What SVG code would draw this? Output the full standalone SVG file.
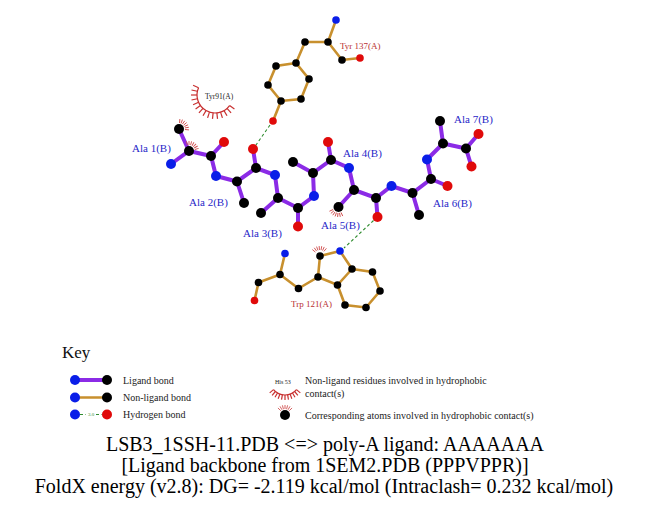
<svg xmlns="http://www.w3.org/2000/svg" xmlns:xlink="http://www.w3.org/1999/xlink" width="651" height="511" viewBox="0 0 651 511">
<style>
.lb{stroke:#8B2BE6;stroke-width:4;stroke-linecap:round;fill:none}
.nb{stroke:#C8902E;stroke-width:2.6;stroke-linecap:round;fill:none}
.hb{stroke:#2E8B2E;stroke-width:1.1;stroke-dasharray:3,2.5;fill:none}
.C{fill:#000}
.N{fill:#0A1EE8}
.O{fill:#E00A0A}
.hy{stroke:#C83030;stroke-width:1.2;fill:none}
.hs{stroke:#D05050;stroke-width:0.9;fill:none}
.ll{font-family:"Liberation Serif","Times New Roman",serif;font-size:11px;fill:#2828C8}
.nl{font-family:"Liberation Serif","Times New Roman",serif;font-size:9px;fill:#B83030}
.sm{font-family:"Liberation Serif","Times New Roman",serif;font-size:7.5px;fill:#222}
.kt{font-family:"Liberation Serif","Times New Roman",serif;font-size:10px;fill:#222}
.tt{font-family:"Liberation Serif","Times New Roman",serif;font-size:20px;fill:#000;text-anchor:middle}
</style>
<defs>
<g id="hspk" class="hs">
<line x1="-4.24" y1="-4.24" x2="-7.07" y2="-7.07"/>
<line x1="-3" y1="-5.2" x2="-5" y2="-8.66"/>
<line x1="-1.55" y1="-5.8" x2="-2.59" y2="-9.66"/>
<line x1="0" y1="-6" x2="0" y2="-10"/>
<line x1="1.55" y1="-5.8" x2="2.59" y2="-9.66"/>
<line x1="3" y1="-5.2" x2="5" y2="-8.66"/>
<line x1="4.24" y1="-4.24" x2="7.07" y2="-7.07"/>
</g>
</defs>
<rect width="651" height="511" fill="#fff"/>

<g id="connectors">
<g class="lb">
<polyline points="171,164 189,151 211,156 216,176 237,181.5 256,168 275,175 278,198 298,208 314,196 313,173 331,160 349,168 354,190 376,198 391.5,186 412.5,193 431,179 427,159.5 443,143.5 466,148.5 478.5,134"/>
<line x1="189" y1="151" x2="179" y2="129"/>
<line x1="211" y1="156" x2="224" y2="142"/>
<line x1="237" y1="181.5" x2="244" y2="203"/>
<line x1="256" y1="168" x2="253" y2="149"/>
<line x1="278" y1="198" x2="261" y2="213"/>
<line x1="298" y1="208" x2="298" y2="226.5"/>
<line x1="313" y1="173" x2="293" y2="162"/>
<line x1="331" y1="160" x2="328" y2="142"/>
<line x1="354" y1="190" x2="338.5" y2="207"/>
<line x1="376" y1="198" x2="377.5" y2="217"/>
<line x1="412.5" y1="193" x2="419" y2="215"/>
<line x1="431" y1="179" x2="447.5" y2="186"/>
<line x1="443" y1="143.5" x2="440" y2="121"/>
<line x1="466" y1="148.5" x2="471.5" y2="166.5"/>
</g>
<g class="nb">
<polyline points="336,20 328,42 305,42 296,63 309,79 301,99 281,101 268,85 276,66 296,63"/>
<polyline points="328,42 342,60 360,58"/>
<line x1="281" y1="101" x2="273" y2="121"/>
<polyline points="285,253.5 280,274.5 258.5,282.5 254.5,300.5"/>
<polyline points="280,274.5 298.5,288.5 318,277 320,256 340,251 352,269 337.5,285 318,277"/>
<polyline points="352,269 372.5,272 380,291 366,307.5 345,305 337.5,285"/>
</g>
<line class="hb" x1="270" y1="125" x2="256" y2="145"/>
<line class="hb" x1="373.5" y1="220.5" x2="344" y2="248"/>
</g>

<g id="tyr91">
<path class="hy" d="M198.56,87.68 A18,18 0 0,0 229.56,105.58"/>
<g class="hy">
<line x1="198.56" y1="87.68" x2="193.08" y2="85.24"/>
<line x1="197.39" y1="91.26" x2="191.53" y2="90.01"/>
<line x1="197" y1="95" x2="191" y2="95"/>
<line x1="197.39" y1="98.74" x2="191.53" y2="99.99"/>
<line x1="198.56" y1="102.32" x2="193.08" y2="104.76"/>
<line x1="200.44" y1="105.58" x2="195.58" y2="109.11"/>
<line x1="202.96" y1="108.38" x2="198.94" y2="112.83"/>
<line x1="206" y1="110.59" x2="203" y2="115.78"/>
<line x1="209.44" y1="112.12" x2="207.58" y2="117.83"/>
<line x1="213.12" y1="112.9" x2="212.49" y2="118.87"/>
<line x1="216.88" y1="112.9" x2="217.51" y2="118.87"/>
<line x1="220.56" y1="112.12" x2="222.42" y2="117.83"/>
<line x1="224" y1="110.59" x2="227" y2="115.78"/>
<line x1="227.04" y1="108.38" x2="231.06" y2="112.83"/>
<line x1="229.56" y1="105.58" x2="234.42" y2="109.11"/>
</g>
<text class="sm" x="205" y="99">Tyr91(A)</text>
</g>

<g id="tyr137">
<circle class="N" cx="336" cy="20" r="3.8"/>
<circle class="C" cx="328" cy="42" r="3.8"/>
<circle class="C" cx="305" cy="42" r="3.8"/>
<circle class="C" cx="342" cy="60" r="3.8"/>
<circle class="O" cx="360" cy="58" r="3.8"/>
<circle class="C" cx="296" cy="63" r="3.8"/>
<circle class="C" cx="309" cy="79" r="3.8"/>
<circle class="C" cx="301" cy="99" r="3.8"/>
<circle class="C" cx="281" cy="101" r="3.8"/>
<circle class="C" cx="268" cy="85" r="3.8"/>
<circle class="C" cx="276" cy="66" r="3.8"/>
<circle class="O" cx="273" cy="121" r="3.8"/>
<text class="nl" x="340" y="49">Tyr 137(A)</text>
</g>

<g id="trp121">
<use xlink:href="#hspk" transform="translate(320,256) rotate(-5)"/>
<circle class="N" cx="285" cy="253.5" r="3.8"/>
<circle class="C" cx="280" cy="274.5" r="3.8"/>
<circle class="C" cx="258.5" cy="282.5" r="3.8"/>
<circle class="O" cx="254.5" cy="300.5" r="3.8"/>
<circle class="C" cx="298.5" cy="288.5" r="3.8"/>
<circle class="C" cx="318" cy="277" r="3.8"/>
<circle class="C" cx="320" cy="256" r="3.8"/>
<circle class="N" cx="340" cy="251" r="3.8"/>
<circle class="C" cx="352" cy="269" r="3.8"/>
<circle class="C" cx="337.5" cy="285" r="3.8"/>
<circle class="C" cx="372.5" cy="272" r="3.8"/>
<circle class="C" cx="380" cy="291" r="3.8"/>
<circle class="C" cx="366" cy="307.5" r="3.8"/>
<circle class="C" cx="345" cy="305" r="3.8"/>
<text class="nl" x="291" y="307">Trp 121(A)</text>
</g>

<g id="ala1">
<use xlink:href="#hspk" transform="translate(179,129) rotate(50)"/>
<use xlink:href="#hspk" transform="translate(189,151) rotate(30)"/>
<circle class="N" cx="171" cy="164" r="5"/>
<circle class="C" cx="189" cy="151" r="5"/>
<circle class="C" cx="179" cy="129" r="5"/>
<circle class="C" cx="211" cy="156" r="5"/>
<circle class="O" cx="224" cy="142" r="5"/>
<text class="ll" x="132" y="151.5">Ala 1(B)</text>
</g>
<g id="ala2">
<circle class="N" cx="216" cy="176" r="5"/>
<circle class="C" cx="237" cy="181.5" r="5"/>
<circle class="C" cx="244" cy="203" r="5"/>
<circle class="C" cx="256" cy="168" r="5"/>
<circle class="O" cx="253" cy="149" r="5"/>
<text class="ll" x="189" y="205.5">Ala 2(B)</text>
</g>
<g id="ala3">
<circle class="N" cx="275" cy="175" r="5"/>
<circle class="C" cx="278" cy="198" r="5"/>
<circle class="C" cx="261" cy="213" r="5"/>
<circle class="C" cx="298" cy="208" r="5"/>
<circle class="O" cx="298" cy="226.5" r="5"/>
<text class="ll" x="243" y="237">Ala 3(B)</text>
</g>
<g id="ala4">
<circle class="N" cx="314" cy="196" r="5"/>
<circle class="C" cx="313" cy="173" r="5"/>
<circle class="C" cx="293" cy="162" r="5"/>
<circle class="C" cx="331" cy="160" r="5"/>
<circle class="O" cx="328" cy="142" r="5"/>
<text class="ll" x="343" y="156.5">Ala 4(B)</text>
</g>
<g id="ala5">
<use xlink:href="#hspk" transform="translate(338.5,207) rotate(200)"/>
<circle class="N" cx="349" cy="168" r="5"/>
<circle class="C" cx="354" cy="190" r="5"/>
<circle class="C" cx="338.5" cy="207" r="5"/>
<circle class="C" cx="376" cy="198" r="5"/>
<circle class="O" cx="377.5" cy="217" r="5"/>
<text class="ll" x="321" y="229">Ala 5(B)</text>
</g>
<g id="ala6">
<circle class="N" cx="391.5" cy="186" r="5"/>
<circle class="C" cx="412.5" cy="193" r="5"/>
<circle class="C" cx="419" cy="215" r="5"/>
<circle class="C" cx="431" cy="179" r="5"/>
<circle class="O" cx="447.5" cy="186" r="5"/>
<text class="ll" x="433" y="207">Ala 6(B)</text>
</g>
<g id="ala7">
<circle class="N" cx="427" cy="159.5" r="5"/>
<circle class="C" cx="443" cy="143.5" r="5"/>
<circle class="C" cx="440" cy="121" r="5"/>
<circle class="C" cx="466" cy="148.5" r="5"/>
<circle class="O" cx="478.5" cy="134" r="5"/>
<circle class="O" cx="471.5" cy="166.5" r="5"/>
<text class="ll" x="454" y="123">Ala 7(B)</text>
</g>

<g id="key">
<text x="62" y="358" font-family="'Liberation Serif','Times New Roman',serif" font-size="17" fill="#111">Key</text>
<line class="lb" x1="75" y1="380" x2="107" y2="380"/>
<circle class="N" cx="75" cy="380" r="5"/>
<circle class="C" cx="107" cy="380" r="5"/>
<text class="kt" x="123" y="383.5">Ligand bond</text>
<line class="nb" x1="75" y1="397.5" x2="107" y2="397.5"/>
<circle class="N" cx="75" cy="397.5" r="5"/>
<circle class="C" cx="107" cy="397.5" r="5"/>
<text class="kt" x="123" y="401">Non-ligand bond</text>
<line class="hb" x1="80" y1="414.5" x2="86" y2="414.5"/>
<line class="hb" x1="96" y1="414.5" x2="102" y2="414.5"/>
<text x="91" y="416" font-family="'Liberation Serif',serif" font-size="5" fill="#2E8B2E" text-anchor="middle">3.0</text>
<circle class="N" cx="75" cy="414.5" r="5"/>
<circle class="O" cx="107" cy="414.5" r="5"/>
<text class="kt" x="123" y="418">Hydrogen bond</text>
<text x="275" y="383.5" font-family="'Liberation Serif',serif" font-size="6" fill="#222">His 53</text>
<path class="hy" d="M273.51,389.64 A15,15 0 0,0 296.49,389.64"/>
<g class="hy">
<line x1="273.51" y1="389.64" x2="269.68" y2="392.86"/>
<line x1="275.36" y1="391.49" x2="272.14" y2="395.32"/>
<line x1="277.5" y1="392.99" x2="275" y2="397.32"/>
<line x1="279.87" y1="394.1" x2="278.16" y2="398.79"/>
<line x1="282.4" y1="394.77" x2="281.53" y2="399.7"/>
<line x1="285" y1="395" x2="285" y2="400"/>
<line x1="287.6" y1="394.77" x2="288.47" y2="399.7"/>
<line x1="290.13" y1="394.1" x2="291.84" y2="398.79"/>
<line x1="292.5" y1="392.99" x2="295" y2="397.32"/>
<line x1="294.64" y1="391.49" x2="297.86" y2="395.32"/>
<line x1="296.49" y1="389.64" x2="300.32" y2="392.86"/>
</g>
<text class="kt" x="305" y="384" font-size="9">Non-ligand residues involved in hydrophobic</text>
<text class="kt" x="305" y="397" font-size="9">contact(s)</text>
<use xlink:href="#hspk" transform="translate(285,415)"/>
<circle class="C" cx="285" cy="415" r="5"/>
<text class="kt" x="305" y="418.5" font-size="9">Corresponding atoms involved in hydrophobic contact(s)</text>
</g>

<g id="title">
<text class="tt" x="325" y="451">LSB3_1SSH-11.PDB &lt;=&gt; poly-A ligand: AAAAAAA</text>
<text class="tt" x="325" y="472">[Ligand backbone from 1SEM2.PDB (PPPVPPR)]</text>
<text class="tt" x="324" y="493">FoldX energy (v2.8): DG= -2.119 kcal/mol (Intraclash= 0.232 kcal/mol)</text>
</g>
</svg>
